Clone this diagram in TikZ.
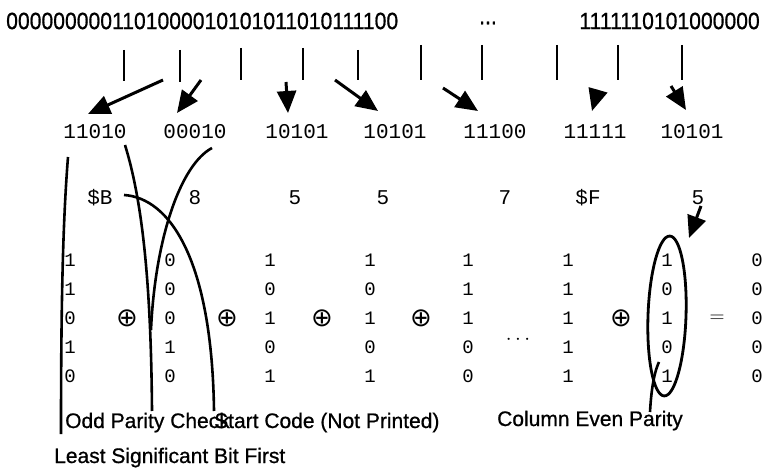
\documentclass[tikz,border=0pt]{standalone}
\usepackage{fontspec}
\usepackage{graphicx}
\newfontfamily\hv[FakeBold=0.8]{Liberation Sans}
\newfontfamily\cour{Liberation Mono}
\newfontfamily\dvs{DejaVu Sans}
\usetikzlibrary{arrows.meta}
\begin{document}
\begin{tikzpicture}[x=1pt,y=-1pt,
  toptxt/.style={font=\hv\fontsize{23.5}{23.5}\selectfont, inner sep=0pt},
  lbl/.style={font=\hv\fontsize{21}{21}\selectfont, inner sep=0pt, anchor=base west},
  grp/.style={font=\cour\fontsize{21}{21}\selectfont, inner sep=0pt},
  dig/.style={font=\cour\fontsize{19}{19}\selectfont, inner sep=0pt},
  opx/.style={font=\dvs\fontsize{26}{26}\selectfont, inner sep=0pt},
  tick/.style={line width=2.6pt},
  bigarrow/.style={line width=3pt, -{Triangle[length=22pt,width=19pt]}},
  curve/.style={line width=2.6pt}]
\useasboundingbox (0,0) rectangle (766,470);
% top bit stream
\node[toptxt, anchor=west] (bitsL) at (6,21) {\scalebox{0.9}[1]{0000000001101000010101011010111100}};
\node[toptxt] (ell) at (488,23) {\scalebox{0.9}[1]{...}};
\node[toptxt, anchor=east] (bitsR) at (760,21) {\scalebox{0.9}[1]{1111110101000000}};
% ticks
\foreach \x/\a/\b [count=\i] in {124/50/81,180/50/82,241/48/80,303/48/80,358/50/80,421/45/80,482/45/80,557/45/80,618/45/80,682/45/80}{
  \coordinate (t\i a) at (\x,\a);
  \coordinate (t\i b) at (\x,\b);
  \draw[tick] (t\i a) -- (t\i b);
}
% 5-bit groups
\foreach \x/\t [count=\i] in {95/11010,195/00010,297/10101,395/10101,495/11100,595/11111,692/10101}{
  \node[grp] (g\i) at (\x,132) {\t};
}
% arrows
\coordinate (a1) at (163,80); \coordinate (b1) at (88,114);
\coordinate (a2) at (201,80); \coordinate (b2) at (177,113);
\coordinate (a3) at (286,82); \coordinate (b3) at (288,113);
\coordinate (a4) at (335,80); \coordinate (b4) at (378,111);
\coordinate (a5) at (443,88); \coordinate (b5) at (478,111);
\coordinate (a6) at (598,90); \coordinate (b6) at (592,111);
\coordinate (a7) at (671,86); \coordinate (b7) at (686,110);
\foreach \i in {1,...,7}{\draw[bigarrow] (a\i) -- (b\i);}
% hex values
\foreach \x/\t [count=\i] in {100/\$B,195/8,295/5,383/5,505/7,588/\$F,698/5}{
  \node[grp] (h\i) at (\x,198) {\t};
}
% matrix columns
\foreach \x/\c [count=\j] in {70/{1,1,0,1,0},170/{0,0,0,1,0},270/{1,0,1,0,1},370/{1,0,1,0,1},468/{1,1,1,0,0},568/{1,1,1,1,1},667/{1,0,1,0,1},757/{0,0,0,0,0}}{
  \foreach \v [count=\r] in \c {
    \pgfmathsetmacro\yy{260+29*(\r-1)}
    \node[dig] (m\j-\r) at (\x,\yy) {\v};
  }
}
% operators
\foreach \x [count=\k] in {127,227,322,421,621}{
  \node[opx] (op\k) at (\x,318) {⊕};
}
\node[font=\fontsize{20}{20}\selectfont, inner sep=0pt] (eq) at (717,319) {$=$};
\node[font=\fontsize{20}{20}\selectfont, inner sep=0pt] (dots) at (518,340) {$\cdots$};
% ellipse around parity column
\draw[line width=2.8pt, rotate around={-2:(667,316)}] (667,316) ellipse [x radius=19, y radius=80];
\coordinate (pa) at (701,206); \coordinate (pb) at (689,238);
\draw[bigarrow] (pa) -- (pb);
% labels
\node[lbl] (odd) at (65,428) {Odd Parity Check};
\node[lbl] (start) at (214,428) {Start Code (Not Printed)};
\node[lbl] (col) at (497,426) {Column Even Parity};
\node[lbl] (lsb) at (54,463) {Least Significant Bit First};
% curves
\coordinate (cA1) at (68,157); \coordinate (cA2) at (61,434);
\draw[curve] (cA1) .. controls (63,220) and (61,300) .. (cA2);
\coordinate (cB1) at (125,145); \coordinate (cB2) at (152,411);
\draw[curve] (cB1) .. controls (142,200) and (151,280) .. (cB2);
\coordinate (cC1) at (212,148); \coordinate (cC2) at (151,330);
\draw[curve] (cC1) .. controls (180,165) and (155,240) .. (cC2);
\coordinate (cD1) at (124,195); \coordinate (cD2) at (214,411);
\draw[curve] (cD1) .. controls (170,198) and (212,260) .. (cD2);
\coordinate (cE1) at (650,412); \coordinate (cE2) at (659,362);
\draw[curve] (cE1) .. controls (651,395) and (653,375) .. (cE2);
\end{tikzpicture}
\end{document}
